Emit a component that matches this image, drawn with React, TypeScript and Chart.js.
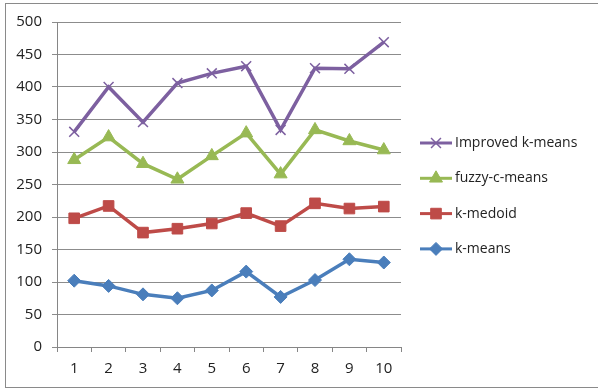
import React, { useEffect, useRef } from "react";
import { Chart, registerables } from "chart.js";
import { drawPoint } from "chart.js/helpers";

Chart.register(...registerables);

const categories = ["1", "2", "3", "4", "5", "6", "7", "8", "9", "10"];
const kMeans = [102, 94, 81, 75, 87, 116, 77, 103, 135, 130];
const kMedoid = [198, 217, 176, 182, 190, 206, 186, 221, 213, 216];
const fuzzyCMeans = [288, 323, 282, 258, 294, 329, 266, 334, 317, 303];
const improvedKMeans = [331, 400, 346, 406, 421, 432, 334, 429, 428, 469];
const seriesNames = ["k-means", "k-medoid", "fuzzy-c-means", "Improved k-means"];

const FONT = "'Open Sans', 'Noto Sans', sans-serif";

const sideLegend = {
  id: "sideLegend",
  afterDraw(chart: any) {
    const { ctx, chartArea } = chart;
    const ds = chart.data.datasets.slice().reverse();
    ctx.save();
    ds.forEach((d: any, i: number) => {
      const y = chartArea.top + 121 + i * 35.3;
      const x0 = chartArea.right + 19;
      ctx.strokeStyle = d.borderColor;
      ctx.lineWidth = 3;
      ctx.beginPath();
      ctx.moveTo(x0, y);
      ctx.lineTo(x0 + 32, y);
      ctx.stroke();
      ctx.fillStyle = d.pointBackgroundColor;
      ctx.strokeStyle = d.pointBorderColor;
      ctx.lineWidth = d.pointBorderWidth;
      drawPoint(ctx, { pointStyle: d.pointStyle, radius: d.pointRadius, rotation: 0, borderWidth: d.pointBorderWidth }, x0 + 16, y);
      ctx.fillStyle = "#222";
      ctx.font = `14px ${FONT}`;
      ctx.textBaseline = "middle";
      ctx.textAlign = "left";
      ctx.fillText(d.label, x0 + 35, y);
    });
    ctx.restore();
  },
};

export default function App() {
  const ref = useRef<HTMLCanvasElement>(null);
  useEffect(() => {
    document.body.style.margin = "0";
    const mk = (label: string, data: number[], color: string, style: string, radius: number, bw: number, fill: string) => ({
      label,
      data,
      borderColor: color,
      backgroundColor: color,
      borderWidth: 3.5,
      pointStyle: style,
      pointRadius: radius,
      pointHoverRadius: radius,
      pointBackgroundColor: fill,
      pointBorderColor: color,
      pointBorderWidth: bw,
      tension: 0,
    });
    const chart = new Chart(ref.current!, {
      type: "line",
      data: {
        labels: categories,
        datasets: [
          mk(seriesNames[0], kMeans, "#4A7EBB", "rectRot", 6.5, 1, "#4A7EBB"),
          mk(seriesNames[1], kMedoid, "#BE4B48", "rect", 7.5, 1, "#BE4B48"),
          mk(seriesNames[2], fuzzyCMeans, "#98B954", "triangle", 7.5, 1, "#98B954"),
          mk(seriesNames[3], improvedKMeans, "#7D60A0", "crossRot", 7, 1.5, "#7D60A0"),
        ],
      },
      options: {
        responsive: false,
        animation: false,
        layout: { padding: { top: 22, right: 197, left: 0, bottom: 0 } },
        plugins: { legend: { display: false }, tooltip: { enabled: false } },
        scales: {
          x: {
            offset: true,
            grid: { drawOnChartArea: false, drawTicks: true, tickLength: 5, color: "#868686", offset: true },
            border: { color: "#868686", width: 1 },
            ticks: { color: "#222", font: { family: FONT, size: 15 }, padding: 8 },
            afterFit: (s: any) => { s.height = 43; },
          },
          y: {
            min: 0,
            max: 500,
            ticks: { stepSize: 50, color: "#222", font: { family: FONT, size: 15 }, padding: 10 },
            grid: { color: "#8c8c8c", tickLength: 5, drawTicks: true },
            border: { color: "#868686", width: 1 },
            afterFit: (s: any) => { s.width = 57; },
          },
        },
      },
      plugins: [sideLegend],
    });
    return () => chart.destroy();
  }, []);
  return (
    <div style={{ position: "relative", width: 598, height: 390 }}>
      <div style={{ position: "absolute", left: 5, top: 3, width: 600, height: 385, border: "1px solid #8a8a8a", boxSizing: "border-box" }} />
      <canvas ref={ref} width={598} height={390} style={{ position: "absolute", left: 0, top: 0 }} />
    </div>
  );
}
